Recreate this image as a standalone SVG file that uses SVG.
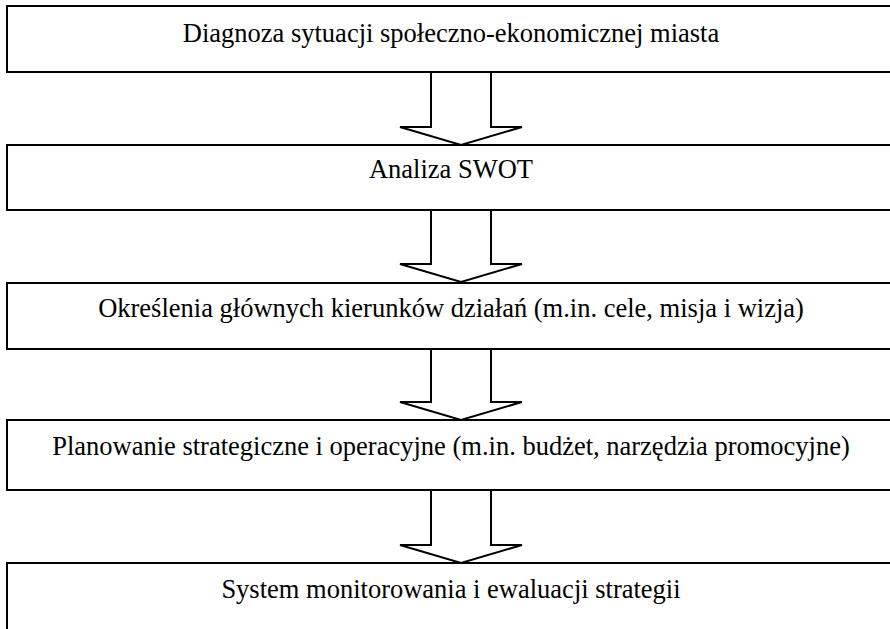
<svg xmlns="http://www.w3.org/2000/svg" width="890" height="629" viewBox="0 0 890 629">
<style>
.box{fill:#fff;stroke:#000;stroke-width:2}
.arr{fill:#fff;stroke:#000;stroke-width:2;stroke-linejoin:miter}
.t{font-family:"Liberation Serif","Times New Roman",serif;font-size:26.5px;fill:#000;text-anchor:middle}
</style>
<rect width="890" height="629" fill="#fff"/>
<g id="connectors">
<polygon class="arr" points="431,72 491,72 491,127 522,127 461,145 400,127 431,127"/>
<polygon class="arr" points="431,210 491,210 491,264 522,264 461,282 400,264 431,264"/>
<polygon class="arr" points="431,349 491,349 491,402 522,402 461,420 400,402 431,402"/>
<polygon class="arr" points="431,490 491,490 491,545 522,545 461,563 400,545 431,545"/>
</g>
<g id="n1"><rect class="box" x="7" y="6" width="900" height="66"/><text class="t" x="451" y="42">Diagnoza sytuacji społeczno-ekonomicznej miasta</text></g>
<g id="n2"><rect class="box" x="7" y="145" width="900" height="65"/><text class="t" x="451" y="178">Analiza SWOT</text></g>
<g id="n3"><rect class="box" x="7" y="283" width="900" height="66"/><text class="t" x="451" y="317">Określenia głównych kierunków działań (m.in. cele, misja i wizja)</text></g>
<g id="n4"><rect class="box" x="7" y="420" width="900" height="70"/><text class="t" x="451" y="455">Planowanie strategiczne i operacyjne (m.in. budżet, narzędzia promocyjne)</text></g>
<g id="n5"><rect class="box" x="7" y="563" width="900" height="80"/><text class="t" x="451" y="598">System monitorowania i ewaluacji strategii</text></g>
</svg>
